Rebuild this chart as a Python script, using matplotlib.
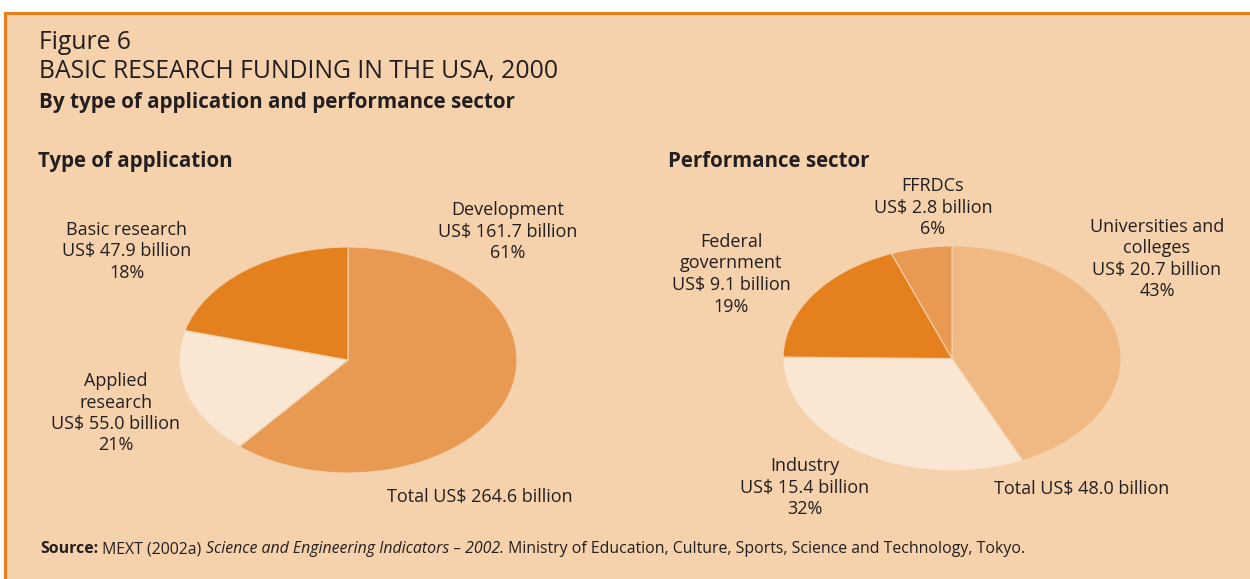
import matplotlib
matplotlib.use("Agg")
import matplotlib.pyplot as plt
from matplotlib.patches import Rectangle

plt.rcParams['font.family'] = ['Open Sans', 'DejaVu Sans']

# data (wedge order as drawn in the original, clockwise from 12 o'clock)
app_labels = ["Development", "Applied research", "Basic research"]
app_values = [161.7, 55.0, 47.9]
app_pct = [61, 21, 18]
app_draw = [161.7, 47.9, 55.0]
app_colors = ["#E99A52", "#F9E6D3", "#E4801E"]

sec_labels = ["Universities and colleges", "Industry", "Federal government", "FFRDCs"]
sec_values = [20.7, 15.4, 9.1, 2.8]
sec_pct = [43, 32, 19, 6]
sec_colors = ["#F0B882", "#F9E6D3", "#E4801E", "#E89A52"]

W, H = 1250, 579
BG = "#F5D1AC"
ORANGE = "#E4801E"
TXT = "#231F20"

fig = plt.figure(figsize=(W / 100, H / 100), dpi=100)
fig.patch.set_facecolor("white")

# panel with orange border on top/left
fig.patches.append(Rectangle((5 / W, -0.1), 1.2, (H - 13) / H + 0.1,
                             transform=fig.transFigure, facecolor=BG,
                             edgecolor=ORANGE, linewidth=2.2, zorder=-5))


def fx(x):
    return x / W


def fy(y):
    return 1 - y / H


def pie_axes(left, top, right, bottom, values, colors):
    ax = fig.add_axes([fx(left), fy(bottom), (right - left) / W, (bottom - top) / H])
    ax.set_zorder(2)
    ax.pie(values, colors=colors, startangle=90, counterclock=False,
           wedgeprops=dict(linewidth=0.8, edgecolor=BG))
    ax.set_aspect('auto')
    ax.set_xlim(-1, 1)
    ax.set_ylim(-1, 1)
    ax.axis('off')
    return ax


pie_axes(179, 247, 517, 473, app_draw, app_colors)
pie_axes(783, 246, 1121, 471, sec_values, sec_colors)

# headings
fig.text(fx(39), fy(49), "Figure 6", fontsize=17.8, color=TXT, va='baseline')
fig.text(fx(39), fy(78), "BASIC RESEARCH FUNDING IN THE USA, 2000", fontsize=17.8,
         color=TXT, va='baseline')
fig.text(fx(39), fy(108), "By type of application and performance sector",
         fontsize=14.9, fontweight='bold', color=TXT, va='baseline')
fig.text(fx(38), fy(167), "Type of application", fontsize=14.8, fontweight='bold',
         color=TXT, va='baseline')
fig.text(fx(668), fy(167), "Performance sector", fontsize=14.8, fontweight='bold',
         color=TXT, va='baseline')


def label(x, y, s):
    fig.text(fx(x), fy(y), s, fontsize=13, color=TXT, ha='center', va='top',
             linespacing=1.25)


# type of application labels
label(508, 201, f"Development\nUS$ {app_values[0]} billion\n{app_pct[0]}%")
label(127, 221, f"Basic research\nUS$ {app_values[2]} billion\n{app_pct[2]}%")
label(116, 372, f"Applied\nresearch\nUS$ {app_values[1]:.1f} billion\n{app_pct[1]}%")
label(480, 488, f"Total US$ {sum(app_values):.1f} billion")

# performance sector labels
label(933, 177, f"FFRDCs\nUS$ {sec_values[3]} billion\n{sec_pct[3]}%")
label(731, 233, f"Federal\ngovernment\nUS$ {sec_values[2]} billion\n{sec_pct[2]}%")
label(1157, 218, f"Universities and\ncolleges\nUS$ {sec_values[0]} billion\n{sec_pct[0]}%")
label(805, 457, f"Industry\nUS$ {sec_values[1]} billion\n{sec_pct[1]}%")
label(1082, 480, f"Total US$ {sum(sec_values):.1f} billion")

# source line, pieces placed one after another
parts = [("Source:", 'bold', 'normal'),
         (" MEXT (2002a) ", 'normal', 'normal'),
         ("Science and Engineering Indicators \u2013 2002.", 'normal', 'italic'),
         (" Ministry of Education, Culture, Sports, Science and Technology, Tokyo.",
          'normal', 'normal')]
src = [fig.text(0, fy(553), s, fontsize=11.4, fontweight=w, style=st, color=TXT,
                va='baseline') for s, w, st in parts]
fig.canvas.draw()
r = fig.canvas.get_renderer()
x = fx(40)
for t in src:
    t.set_x(x)
    x += t.get_window_extent(renderer=r).width / W

fig.savefig("out.png", dpi=100, facecolor=fig.get_facecolor())
